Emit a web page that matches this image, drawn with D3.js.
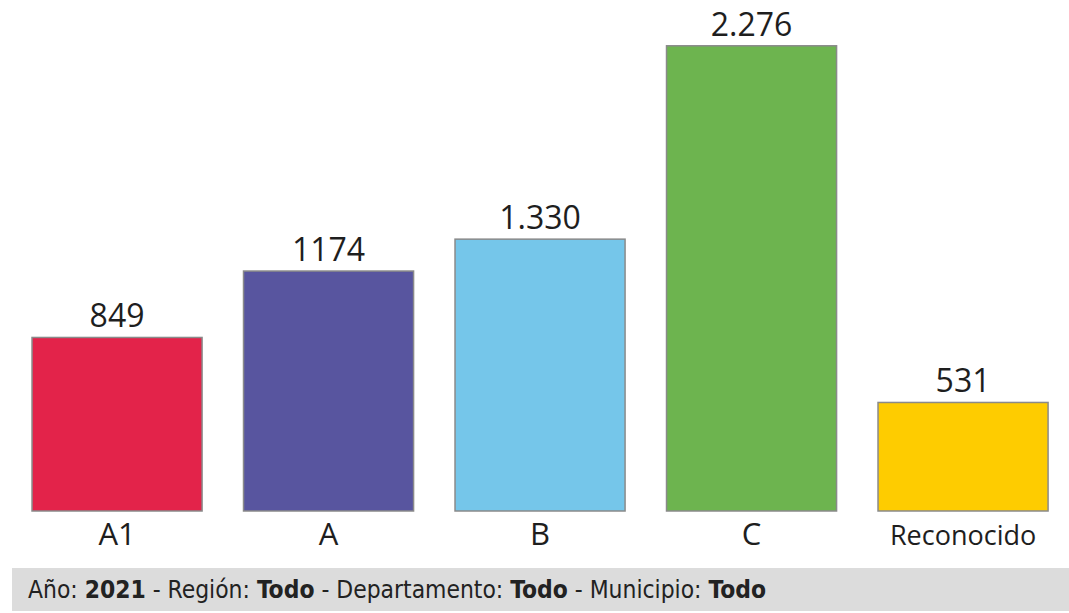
<!DOCTYPE html>
<html>
<head>
<meta charset="utf-8">
<script src="https://d3js.org/d3.v7.min.js"></script>
<style>
  body { margin: 0; background: #ffffff; }
  svg { display: block; }
</style>
</head>
<body>
<div id="chart"></div>
<script>
// Chart data
const categories = ['A1', 'A', 'B', 'C', 'Reconocido'];
const values = [849, 1174, 1330, 2276, 531];
const valueLabels = ['849', '1174', '1.330', '2.276', '531'];
const colors = ['#e3234a', '#58559f', '#75c6ea', '#6db44f', '#fecc00'];

const width = 1069;
const height = 613;
const baseline = 511;

const svg = d3.select('#chart')
  .append('svg')
  .attr('width', width)
  .attr('height', height);

const x = d3.scaleBand()
  .domain(categories)
  .range([11.3, 1068.8])
  .paddingInner(0.196)
  .paddingOuter(0.098);

const y = d3.scaleLinear()
  .domain([0, 2500])
  .range([baseline, 0]);

const data = categories.map((c, i) => ({ cat: c, value: values[i], label: valueLabels[i], color: colors[i] }));

// Bars
svg.append('g').selectAll('rect')
  .data(data)
  .join('rect')
  .attr('x', d => x(d.cat))
  .attr('y', d => y(d.value))
  .attr('width', x.bandwidth())
  .attr('height', d => baseline - y(d.value))
  .attr('fill', d => d.color)
  .attr('stroke', '#8a8a8a')
  .attr('stroke-width', 1.5);

// Value labels
svg.append('g').selectAll('text')
  .data(data)
  .join('text')
  .attr('x', d => x(d.cat) + x.bandwidth() / 2)
  .attr('y', d => y(d.value) - 10)
  .attr('text-anchor', 'middle')
  .style('font-family', '"Open Sans", sans-serif')
  .style('font-size', '32px')
  .style('fill', '#1e1e1e')
  .text(d => d.label);

// Category labels
svg.append('g').selectAll('text')
  .data(data)
  .join('text')
  .attr('x', d => x(d.cat) + x.bandwidth() / 2)
  .attr('y', 545)
  .attr('text-anchor', 'middle')
  .style('font-family', '"Open Sans", sans-serif')
  .style('font-size', d => d.cat === 'Reconocido' ? '27px' : '31px')
  .style('fill', '#1e1e1e')
  .text(d => d.cat);

// Footer band
svg.append('rect')
  .attr('x', 12)
  .attr('y', 568)
  .attr('width', width - 12)
  .attr('height', 43)
  .attr('fill', '#dcdcdc');

const footer = svg.append('text')
  .attr('x', 28)
  .attr('y', 598)
  .attr('textLength', 738)
  .attr('lengthAdjust', 'spacingAndGlyphs')
  .style('font-family', '"DejaVu Sans Condensed", "DejaVu Sans", sans-serif')
  .style('font-stretch', 'condensed')
  .style('font-size', '24px')
  .style('fill', '#222');

const footerParts = [
  ['Año: ', false], ['2021', true], [' - Región: ', false], ['Todo', true],
  [' - Departamento: ', false], ['Todo', true], [' - Municipio: ', false], ['Todo', true]
];
footerParts.forEach(([t, bold]) => {
  footer.append('tspan')
    .style('font-weight', bold ? 'bold' : 'normal')
    .text(t);
});
</script>
</body>
</html>
